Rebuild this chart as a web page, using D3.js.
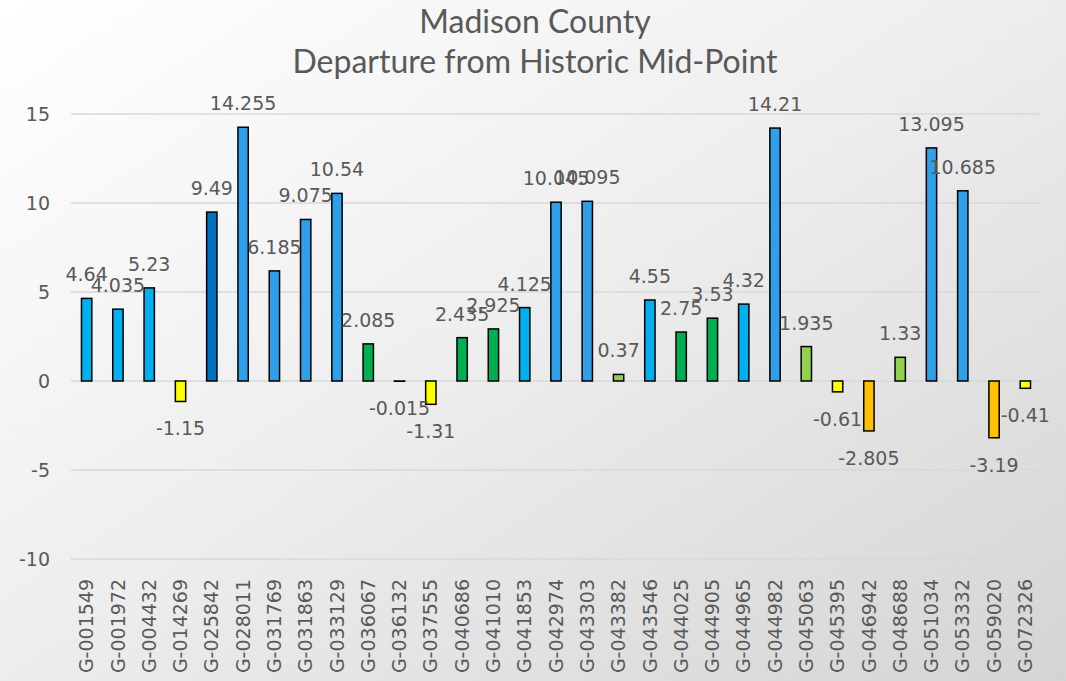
<!DOCTYPE html>
<html>
<head>
<meta charset="utf-8">
<title>Madison County</title>
<script src="https://cdn.jsdelivr.net/npm/d3@7"></script>
<style>
  body { margin: 0; background: #fff; }
  svg { display: block; }
</style>
</head>
<body>
<svg id="chart" width="1066" height="681"></svg>
<script>
// well ids, values
var wells = ["G-001549", "G-001972", "G-004432", "G-014269", "G-025842", "G-028011",
  "G-031769", "G-031863", "G-033129", "G-036067", "G-036132", "G-037555", "G-040686",
  "G-041010", "G-041853", "G-042974", "G-043303", "G-043382", "G-043546", "G-044025",
  "G-044905", "G-044965", "G-044982", "G-045063", "G-045395", "G-046942", "G-048688",
  "G-051034", "G-053332", "G-059020", "G-072326"];

var departure = [4.64, 4.035, 5.23, -1.15, 9.49, 14.255, 6.185, 9.075, 10.54, 2.085,
  -0.015, -1.31, 2.435, 2.925, 4.125, 10.045, 10.095, 0.37, 4.55, 2.75, 3.53, 4.32,
  14.21, 1.935, -0.61, -2.805, 1.33, 13.095, 10.685, -3.19, -0.41];

// colour class of each bar
var tier = ["b2", "b2", "b2", "y1", "b1", "b3", "b3", "b3", "b3", "g1", "y1", "y1", "g1",
  "g1", "b2", "b3", "b3", "g2", "b2", "g1", "g1", "b2", "b3", "g2", "y1", "o1", "g2",
  "b3", "b3", "o1", "y1"];

var yTicks = [-10, -5, 0, 5, 10, 15];

var svg = d3.select("#chart");
var W = 1066, H = 681;

var defs = svg.append("defs");
var grad = defs.append("linearGradient")
  .attr("id", "bg")
  .attr("x1", "0").attr("y1", "0")
  .attr("x2", "1").attr("y2", "1");
grad.append("stop").attr("offset", "0").attr("stop-color", "#ffffff");
grad.append("stop").attr("offset", "0.45").attr("stop-color", "#efefef");
grad.append("stop").attr("offset", "1").attr("stop-color", "#d4d4d4");

svg.append("rect")
  .attr("width", W).attr("height", H)
  .attr("fill", "url(#bg)");

var color = d3.scaleOrdinal()
  .domain(["b1", "b2", "b3", "g1", "g2", "y1", "o1"])
  .range(["#0070C0", "#00B0F0", "#2E9FE8", "#00B050", "#92D050", "#FFFF00", "#FFC000"]);

var x = d3.scaleBand()
  .domain(wells)
  .range([71, 1041])
  .paddingInner(0.67)
  .paddingOuter(0.335);

var y = d3.scaleLinear()
  .domain([-10, 15])
  .range([559, 114]);

var txt = "#595959";

// title
svg.append("text")
  .attr("x", 535).attr("y", 33)
  .attr("text-anchor", "middle")
  .attr("font-family", "Lato, sans-serif")
  .attr("font-size", 32)
  .attr("fill", txt)
  .text("Madison County");
svg.append("text")
  .attr("x", 535).attr("y", 73)
  .attr("text-anchor", "middle")
  .attr("font-family", "Lato, sans-serif")
  .attr("font-size", 32)
  .attr("fill", txt)
  .text("Departure from Historic Mid-Point");

// gridlines
svg.append("g")
  .selectAll("line")
  .data(yTicks)
  .enter().append("line")
    .attr("x1", 71).attr("x2", 1041)
    .attr("y1", function(d) { return y(d); })
    .attr("y2", function(d) { return y(d); })
    .attr("stroke", "#d9d9d9")
    .attr("stroke-width", 1.5);

// y axis labels
var yAxis = d3.axisLeft(y)
  .tickValues(yTicks)
  .tickFormat(function(d) { return String(d); })
  .tickSize(0).tickPadding(0);
var gy = svg.append("g")
  .attr("transform", "translate(50,0)")
  .call(yAxis);
gy.select(".domain").remove();
gy.selectAll("text")
  .attr("font-family", "DejaVu Sans, sans-serif")
  .attr("font-size", 19)
  .attr("fill", txt);

// bars
svg.append("g")
  .selectAll("rect")
  .data(departure)
  .enter().append("rect")
    .attr("x", function(d, i) { return x(wells[i]); })
    .attr("width", x.bandwidth())
    .attr("y", function(d) { return y(Math.max(0, d)); })
    .attr("height", function(d) { return Math.abs(y(d) - y(0)); })
    .attr("fill", function(d, i) { return color(tier[i]); })
    .attr("stroke", "#000")
    .attr("stroke-width", 1.5);

// value labels
svg.append("g")
  .selectAll("text")
  .data(departure)
  .enter().append("text")
    .attr("x", function(d, i) { return x(wells[i]) + x.bandwidth() / 2; })
    .attr("y", function(d) { return d >= 0 ? y(d) - 17 : y(d) + 34; })
    .attr("text-anchor", "middle")
    .attr("font-family", "DejaVu Sans, sans-serif")
    .attr("font-size", 19)
    .attr("fill", txt)
    .text(function(d) { return d; });

// category axis, labels rotated
var xAxis = d3.axisBottom(x).tickSize(0).tickPadding(0);
var gx = svg.append("g")
  .attr("transform", "translate(0,579)")
  .call(xAxis);
gx.select(".domain").remove();
gx.selectAll("text")
  .attr("transform", "rotate(-90)")
  .attr("text-anchor", "end")
  .attr("x", 0)
  .attr("y", 0)
  .attr("dy", "0.35em")
  .attr("font-family", "DejaVu Sans, sans-serif")
  .attr("font-size", 19)
  .attr("fill", txt);
</script>
</body>
</html>
